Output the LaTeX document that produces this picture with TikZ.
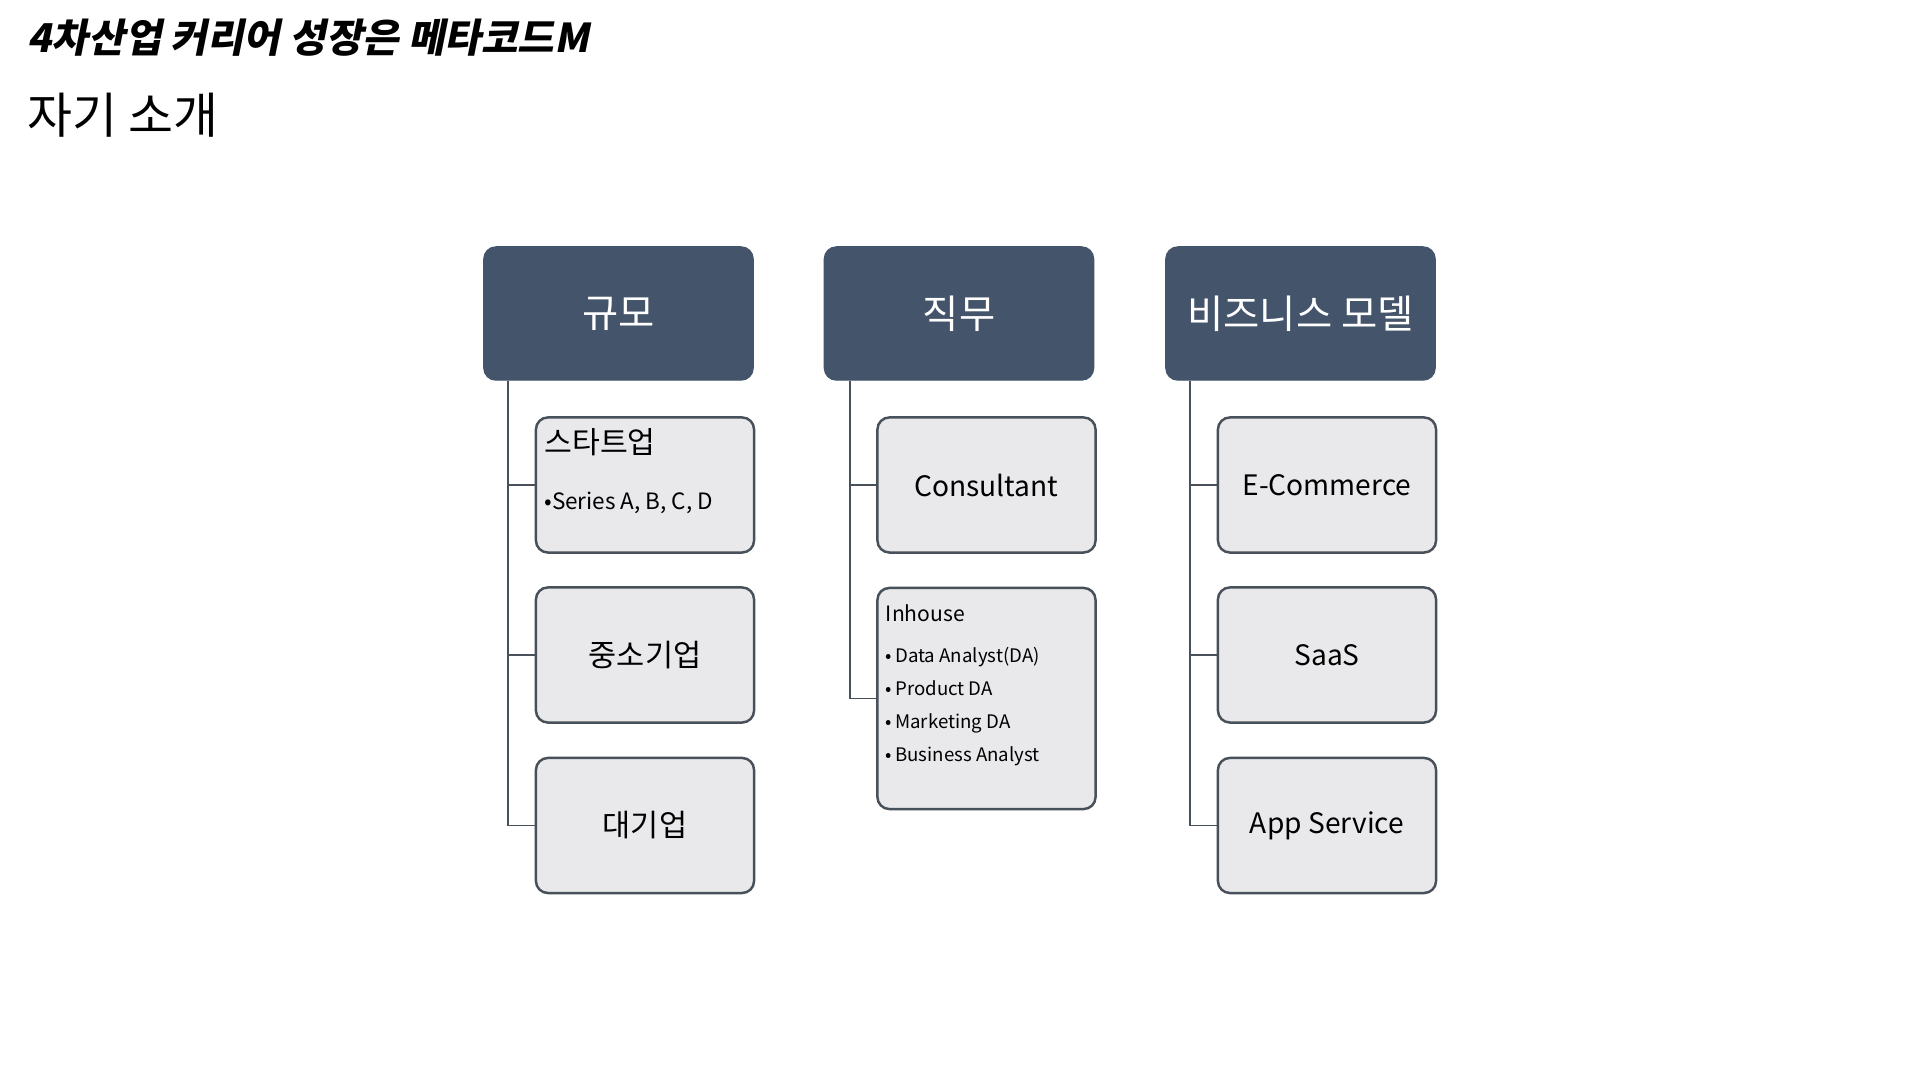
\documentclass[tikz,border=0pt]{standalone}
\usepackage{fontspec}
\setmainfont{Noto Sans CJK KR}
\newfontfamily\titlefont[FakeSlant=0.2]{Noto Sans CJK KR}
\usepackage{xcolor}
\usetikzlibrary{positioning,calc}
\definecolor{hdrblue}{RGB}{68,84,106}
\definecolor{boxgray}{RGB}{233,233,235}
\definecolor{edgegray}{RGB}{72,80,90}

\begin{document}
\begin{tikzpicture}[x=0.01cm, y=-0.01cm,
    hdr/.style={rectangle, rounded corners=3.4pt, fill=hdrblue, draw=hdrblue, minimum width=2.69cm, minimum height=1.33cm, text=white, font=\fontsize{11.2}{13}\selectfont},
    item/.style={rectangle, rounded corners=3.4pt, fill=boxgray, draw=edgegray, line width=0.7pt, minimum width=2.18cm, minimum height=1.35cm, font=\fontsize{8}{10}\selectfont},
    kritem/.style={item, font=\fontsize{8.7}{10}\selectfont},
    link/.style={draw=edgegray, line width=0.5pt},
    subhead/.style={anchor=west, inner sep=0pt, font=\fontsize{8.6}{10}\selectfont},
    sub/.style={anchor=west, inner sep=0pt, text height=1.6ex, text depth=0.4ex, font=\fontsize{5.3}{6.5}\selectfont}
]
    \useasboundingbox[fill=white] (0,0) rectangle (1920,1080);

    % titles
    \node[anchor=west, inner sep=0pt, font=\titlefont\bfseries\fontsize{11.3}{13}\selectfont] (title) at (27,38) {4차산업 커리어 성장은 메타코드M};
    \node[anchor=west, inner sep=0pt, font=\fontsize{13.9}{16}\selectfont] (intro) at (27,115) {자기 소개};

    % headers
    \node[hdr] (size) at (618.5,313.5) {규모};
    \node[hdr] (job) at (959,313.5) {직무};
    \node[hdr] (biz) at (1300.5,313.5) {비즈니스 모델};

    % size column
    \node[item] (startup) at (645,485) {};
    \node[subhead] (startupT) at ([xshift=0.09cm, yshift=-0.26cm]startup.north west) {스타트업};
    \node[sub, font=\fontsize{6.4}{7.5}\selectfont] (series) at ([xshift=0.09cm, yshift=-0.82cm]startup.north west) {•Series A, B, C, D};
    \node[kritem] (sme) at (645,655) {중소기업};
    \node[kritem] (large) at (645,825.5) {대기업};

    % job column
    \node[item] (consult) at (986.5,485) {Consultant};
    \node[item, minimum height=2.21cm] (inhouse) at (986.5,698.5) {};
    \node[sub, font=\fontsize{6}{7}\selectfont] (inhouseT) at ([xshift=0.09cm, yshift=-0.23cm]inhouse.north west) {Inhouse};
    \foreach \t [count=\i] in {Data Analyst(DA), Product DA, Marketing DA, Business Analyst}
        \node[sub] (role\i) at ([xshift=0.09cm, yshift=-0.31cm-\i*0.33cm]inhouse.north west) {•\,\t};

    % business model column
    \node[item] (ecom) at (1327,485) {E-Commerce};
    \node[item] (saas) at (1327,655) {SaaS};
    \node[item] (app) at (1327,825.5) {App Service};

    % connectors
    \coordinate (sizeT) at ([xshift=0.25cm]size.south west);
    \coordinate (jobT) at ([xshift=0.26cm]job.south west);
    \coordinate (bizT) at ([xshift=0.25cm]biz.south west);
    \draw[link] (sizeT) |- (startup.west);
    \draw[link] (sizeT) |- (sme.west);
    \draw[link] (sizeT) |- (large.west);
    \draw[link] (jobT) |- (consult.west);
    \draw[link] (jobT) |- (inhouse.west);
    \draw[link] (bizT) |- (ecom.west);
    \draw[link] (bizT) |- (saas.west);
    \draw[link] (bizT) |- (app.west);
\end{tikzpicture}
\end{document}
